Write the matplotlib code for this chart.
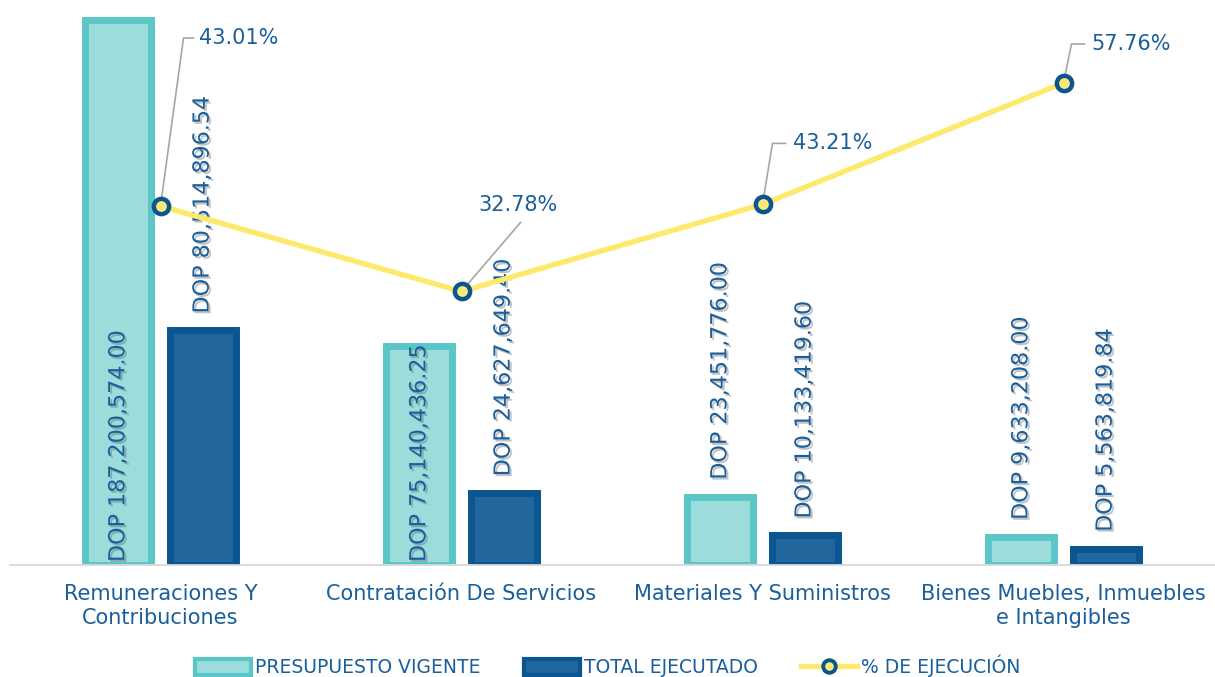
import numpy as np
import matplotlib
matplotlib.use('Agg')
import matplotlib.pyplot as plt
from matplotlib.patches import Patch
from matplotlib.lines import Line2D
import matplotlib.patheffects as pe

# donnees
categorias = ['Remuneraciones Y\nContribuciones', 'Contratación De Servicios',
              'Materiales Y Suministros', 'Bienes Muebles, Inmuebles\ne Intangibles']
presupuesto = [187200574.00, 75140436.25, 23451776.00, 9633208.00]
ejecutado = [80514896.54, 24627649.40, 10133419.60, 5563819.84]
pct_ejecucion = [43.01, 32.78, 43.21, 57.76]

azul_txt = '#1a5f9c'
claro_fill = '#9cdddc'
claro_borde = '#5bc6c8'
oscuro_fill = '#21669c'
oscuro_borde = '#0b5591'
amarillo = '#fde96c'

plt.rcParams['font.family'] = ['DejaVu Sans']

fig = plt.figure(figsize=(12.15, 6.77), dpi=100)
ax = fig.add_axes([10/1215, 112/677, 1204/1215, 555/677])
ax2 = ax.twinx()

x = np.arange(len(categorias))
w = 0.22
off = 0.14

b1 = ax.bar(x - off, presupuesto, w, color=claro_fill, edgecolor=claro_borde, linewidth=5, zorder=2)
b2 = ax.bar(x + off, ejecutado, w, color=oscuro_fill, edgecolor=oscuro_borde, linewidth=5, zorder=2)

ax.set_xlim(-0.5, 3.5)
ax.set_ylim(0, 190.5e6)
ax2.set_ylim(0, 66.5)

sombra = [pe.withSimplePatchShadow(offset=(1.5, -1.5), shadow_rgbFace='#555555', alpha=0.35)]

# etiquettes des barres : dans la barre si elle est assez haute (barres claires), sinon au-dessus
for bars, vals, dedans_ok in [(b1, presupuesto, True), (b2, ejecutado, False)]:
    for b, v in zip(bars, vals):
        cx = b.get_x() + b.get_width() / 2
        txt = 'DOP {:,.2f}'.format(v)
        if dedans_ok and v > 70e6:
            ax.annotate(txt, (cx, 0), xytext=(0, 3), textcoords='offset pixels',
                        rotation=90, ha='center', va='bottom', fontsize=16,
                        color=azul_txt, path_effects=sombra, zorder=5)
        else:
            ax.annotate(txt, (cx, v), xytext=(0, 17), textcoords='offset pixels',
                        rotation=90, ha='center', va='bottom', fontsize=16,
                        color=azul_txt, path_effects=sombra, zorder=5)

ax2.plot(x, pct_ejecucion, color=amarillo, linewidth=3.8, zorder=3,
         marker='o', markersize=11, markerfacecolor='#f9e87a',
         markeredgecolor=oscuro_borde, markeredgewidth=3.2)

# lignes de rappel des pourcentages (decalages en pixels)
rappels = [
    [(0, 0), (23, 168), (33, 168)],
    [(0, 0), (59, 69)],
    [(0, 0), (10, 61), (23, 61)],
    [(0, 0), (8, 39), (21, 39)],
]
textes = [((39, 168), 'left'), ((56, 86), 'center'), ((30, 61), 'left'), ((28, 39), 'left')]

fig.canvas.draw()
inv = ax2.transData.inverted()
for i in range(len(x)):
    px, py = ax2.transData.transform((x[i], pct_ejecucion[i]))
    pts = np.array([inv.transform((px + dx, py + dy)) for dx, dy in rappels[i]])
    ax2.plot(pts[:, 0], pts[:, 1], color='#a6a6a6', linewidth=1.2, zorder=2.5)
    (tx, ty), ha = textes[i]
    ax2.annotate('{:.2f}%'.format(pct_ejecucion[i]), (x[i], pct_ejecucion[i]),
                 xytext=(tx, ty), textcoords='offset pixels', ha=ha, va='center',
                 fontsize=15, color=azul_txt)

for a in (ax, ax2):
    for s in ['top', 'right', 'left']:
        a.spines[s].set_visible(False)
    a.set_yticks([])
ax.spines['bottom'].set_color('#d9d9d9')
ax.spines['bottom'].set_linewidth(1.3)
ax2.spines['bottom'].set_visible(False)
ax.set_xticks(x)
ax.set_xticklabels(categorias, fontsize=15, color=azul_txt, linespacing=1.2)
ax.tick_params(axis='x', length=0, pad=14)

handles = [Patch(facecolor=claro_fill, edgecolor=claro_borde, linewidth=3),
           Patch(facecolor=oscuro_fill, edgecolor=oscuro_borde, linewidth=3),
           Line2D([], [], color=amarillo, linewidth=3.8, marker='o', markersize=9,
                  markerfacecolor='#f9e87a', markeredgecolor=oscuro_borde, markeredgewidth=2.8)]
fig.legend(handles, ['PRESUPUESTO VIGENTE', 'TOTAL EJECUTADO', '% DE EJECUCIÓN'],
           loc='center', bbox_to_anchor=(0.5, 1 - 666/677), ncol=3, frameon=False,
           fontsize=13.5, labelcolor=azul_txt, handlelength=3.0, handleheight=0.9,
           handletextpad=0.2, columnspacing=2.3)

fig.savefig('out.png', dpi=100)
